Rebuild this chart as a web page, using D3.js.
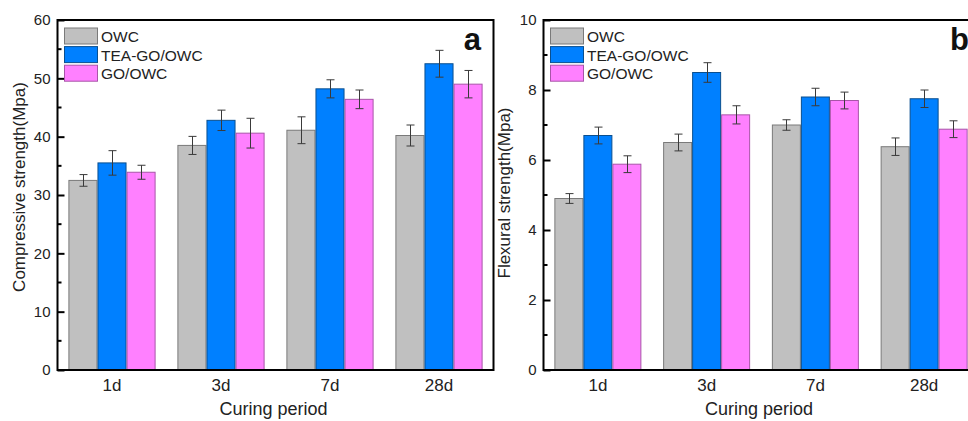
<!DOCTYPE html>
<html>
<head>
<meta charset="utf-8">
<script src="https://cdn.jsdelivr.net/npm/d3@7"></script>
<style>
  html, body { margin: 0; padding: 0; background: #fff; }
  svg { display: block; font-family: "Liberation Sans", Arial, Helvetica, sans-serif; }
</style>
</head>
<body>
<svg id="chart" width="968" height="421"></svg>
<script>
// Curing periods and series
const periods = ["1d", "3d", "7d", "28d"];
const seriesNames = ["OWC", "TEA-GO/OWC", "GO/OWC"];
const seriesColors = ["#c0c0c0", "#0080ff", "#ff80ff"];
const seriesStrokes = ["#7a7a7a", "#0a4f8f", "#a855a8"];

// Compressive strength (MPa) and standard deviations
const compOWC = [32.5, 38.5, 41.1, 40.2];
const compOWCErr = [1.0, 1.55, 2.3, 1.8];
const compTEA = [35.5, 42.8, 48.2, 52.5];
const compTEAErr = [2.1, 1.75, 1.55, 2.3];
const compGO = [33.9, 40.6, 46.4, 49.0];
const compGOErr = [1.2, 2.55, 1.6, 2.35];

// Flexural strength (MPa) and standard deviations
const flexOWC = [4.9, 6.5, 7.0, 6.38];
const flexOWCErr = [0.14, 0.24, 0.15, 0.25];
const flexTEA = [6.7, 8.5, 7.8, 7.75];
const flexTEAErr = [0.24, 0.28, 0.25, 0.25];
const flexGO = [5.88, 7.29, 7.7, 6.88];
const flexGOErr = [0.24, 0.26, 0.24, 0.24];

// Axis ticks
const compTicks = [0, 10, 20, 30, 40, 50, 60];
const compMinor = [5, 15, 25, 35, 45, 55];
const flexTicks = [0, 2, 4, 6, 8, 10];
const flexMinor = [1, 3, 5, 7, 9];

const svg = d3.select("#chart");

function drawPanel(opt) {
  const { left, right, top, bottom, yMax, ticks, minor, values, errors,
          yTitle, yTitleX, yTitleY, tag, tagX, legendX } = opt;

  const g = svg.append("g");

  const x0 = d3.scaleBand().domain(periods).range([left, right])
    .paddingInner(0.2).paddingOuter(0.1);
  const x1 = d3.scaleBand().domain(seriesNames).range([0, x0.bandwidth()]).padding(0);
  const y = d3.scaleLinear().domain([0, yMax]).range([bottom, top]);

  // bars
  seriesNames.forEach((s, si) => {
    g.append("g").selectAll("rect")
      .data(periods.map((p, i) => ({ p, v: values[si][i], e: errors[si][i] })))
      .join("rect")
      .attr("x", d => x0(d.p) + x1(s) + 0.5)
      .attr("y", d => y(d.v))
      .attr("width", x1.bandwidth() - 1)
      .attr("height", d => y(0) - y(d.v))
      .attr("fill", seriesColors[si])
      .attr("stroke", seriesStrokes[si])
      .attr("stroke-width", 1);
  });

  // error bars
  seriesNames.forEach((s, si) => {
    const eg = g.append("g").attr("stroke", "#3a3a3a").attr("stroke-width", 1).attr("fill", "none");
    periods.forEach((p, i) => {
      const cx = Math.round(x0(p) + x1(s) + x1.bandwidth() / 2) + 0.5;
      const v = values[si][i], e = errors[si][i];
      eg.append("line").attr("x1", cx).attr("x2", cx).attr("y1", y(v + e)).attr("y2", y(v - e));
      eg.append("line").attr("x1", cx - 4).attr("x2", cx + 4).attr("y1", y(v + e)).attr("y2", y(v + e));
      eg.append("line").attr("x1", cx - 4).attr("x2", cx + 4).attr("y1", y(v - e)).attr("y2", y(v - e));
    });
  });

  // y axis with inward ticks
  const yAxis = d3.axisRight(y).tickValues(ticks).tickSize(7).tickFormat(d3.format("d"));
  const ya = g.append("g").attr("transform", `translate(${left},0)`).call(yAxis);
  ya.select(".domain").remove();
  ya.selectAll(".tick line").attr("stroke", "#000").attr("stroke-width", 2);
  ya.selectAll(".tick text")
    .attr("x", -7).attr("text-anchor", "end")
    .attr("font-size", 15).attr("fill", "#222");
  g.append("g").selectAll("line").data(minor).join("line")
    .attr("x1", left).attr("x2", left + 4)
    .attr("y1", d => y(d)).attr("y2", d => y(d))
    .attr("stroke", "#000").attr("stroke-width", 2);

  // x axis labels
  const xAxis = d3.axisBottom(x0).tickSize(0).tickPadding(8);
  const xa = g.append("g").attr("transform", `translate(0,${bottom})`).call(xAxis);
  xa.select(".domain").remove();
  xa.selectAll(".tick text").attr("font-size", 17).attr("fill", "#222").attr("dy", "0.78em");

  // frame
  g.append("rect")
    .attr("x", left).attr("y", top)
    .attr("width", right - left).attr("height", bottom - top)
    .attr("fill", "none").attr("stroke", "#000").attr("stroke-width", 2);

  // axis titles
  g.append("text")
    .attr("transform", `translate(${yTitleX},${yTitleY}) rotate(-90)`)
    .attr("text-anchor", "middle")
    .attr("font-size", 17).attr("fill", "#222")
    .text(yTitle);
  g.append("text")
    .attr("x", (left + right) / 2 - 2).attr("y", 415)
    .attr("text-anchor", "middle")
    .attr("font-size", 18).attr("fill", "#222")
    .text("Curing period");

  // legend
  const lg = g.append("g");
  seriesNames.forEach((s, si) => {
    const ly = 28 + si * 18.6;
    lg.append("rect")
      .attr("x", legendX).attr("y", ly)
      .attr("width", 33).attr("height", 16)
      .attr("fill", seriesColors[si]).attr("stroke", seriesStrokes[si]).attr("stroke-width", 1);
    lg.append("text")
      .attr("x", legendX + 36.5).attr("y", ly + 14)
      .attr("font-size", 15.5).attr("fill", "#222")
      .text(s);
  });

  // panel tag
  g.append("text")
    .attr("x", tagX).attr("y", 50)
    .attr("text-anchor", "end")
    .attr("font-size", 31).attr("font-weight", "bold").attr("fill", "#111")
    .text(tag);
}

drawPanel({
  left: 57.5, right: 493.5, top: 20, bottom: 370, yMax: 60,
  ticks: compTicks, minor: compMinor,
  values: [compOWC, compTEA, compGO],
  errors: [compOWCErr, compTEAErr, compGOErr],
  yTitle: "Compressive strength(Mpa)", yTitleX: 25, yTitleY: 187,
  tag: "a", tagX: 481, legendX: 64.5
});

drawPanel({
  left: 543.5, right: 978.5, top: 20, bottom: 370, yMax: 10,
  ticks: flexTicks, minor: flexMinor,
  values: [flexOWC, flexTEA, flexGO],
  errors: [flexOWCErr, flexTEAErr, flexGOErr],
  yTitle: "Flexural strength(Mpa)", yTitleX: 510, yTitleY: 193,
  tag: "b", tagX: 969, legendX: 550.5
});
</script>
</body>
</html>
